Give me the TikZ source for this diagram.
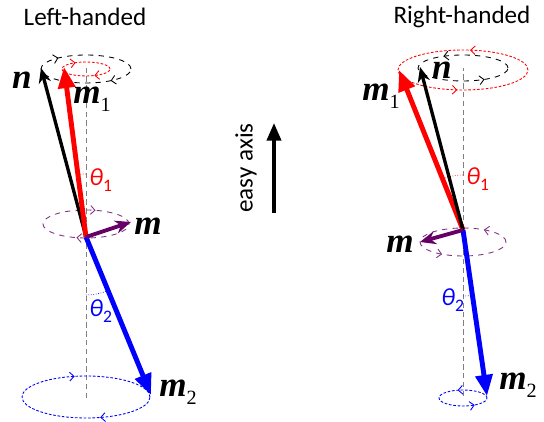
\documentclass[tikz,border=0pt]{standalone}
\usepackage{fontspec}
\setmainfont{Carlito}
\newfontfamily\lblfont{Liberation Serif}
\usetikzlibrary{arrows.meta,decorations.markings}
\definecolor{mpurple}{RGB}{102,0,102}
\definecolor{lpurple}{RGB}{128,50,128}
\newcommand\vlab[2]{{\lblfont\bfseries\itshape #1}\raisebox{-0.45ex}{\lblfont\fontsize{11.5}{12}\selectfont #2}}
\newcommand\tlab[1]{\textit{θ}\raisebox{-0.45ex}{\fontsize{10}{10}\selectfont #1}}

\begin{document}
\begin{tikzpicture}[x=0.02cm,y=0.02cm,line join=round]
	\tikzset{every node/.style={inner sep=0pt},
		axisline/.style={gray,densely dashed,line width=0.5pt},
		cw/.style 2 args={postaction={decorate,decoration={markings,
			mark=at position #1 with {\arrowreversed{Straight Barb[length=2.5pt,width=5pt]}},
			mark=at position #2 with {\arrowreversed{Straight Barb[length=2.5pt,width=5pt]}}}}},
		ccw/.style 2 args={postaction={decorate,decoration={markings,
			mark=at position #1 with {\arrow{Straight Barb[length=2.5pt,width=5pt]}},
			mark=at position #2 with {\arrow{Straight Barb[length=2.5pt,width=5pt]}}}}},
		nvec/.style={black,line width=1.9pt,-{Stealth[length=8.5pt,width=7pt]}},
		mvec/.style={line width=2.8pt,-{Triangle[length=12pt,width=9.5pt]}},
		pvec/.style={mpurple,line width=2.2pt,-{Stealth[length=9pt,width=7.5pt]}},
		bigm/.style={font=\fontsize{20}{21}\selectfont},
		thlab/.style={font=\fontsize{14}{15}\selectfont},
		title/.style={font=\fontsize{14.3}{16}\selectfont}}
	\useasboundingbox (0,0) rectangle (544,422);
	% titles and easy axis
	\node[title] (lt) at (85,405) {Left-handed};
	\node[title] (rt) at (462,405) {Right-handed};
	\coordinate (ea0) at (274,209);
	\coordinate (ea1) at (274,299);
	\draw[line width=2pt,-{Triangle[length=10pt,width=8pt]}] (ea0)--(ea1);
	\node[title,rotate=90] (ea) at (246,254) {easy axis};
	%%% left-handed
	\coordinate (OL) at (86,185);
	\coordinate (axL0) at (86,24);
	\coordinate (axL1) at (86,357);
	\draw[axisline] (axL0)--(axL1);
	\draw[black,dashed,line width=0.5pt,cw={0.39}{0.875}] (86,353) ellipse [x radius=45,y radius=14];
	\draw[red,dash pattern=on 1.5pt off 1pt,line width=0.5pt,cw={0.35}{0.83}] (86,353) ellipse [x radius=24,y radius=7];
	\draw[lpurple,dashed,line width=0.5pt,cw={0.2}{0.7}] (86,198) ellipse [x radius=43,y radius=14];
	\draw[blue,dash pattern=on 1.5pt off 1pt,line width=0.5pt,cw={0.29}{0.8}] (86,25) ellipse [x radius=64,y radius=21];
	\coordinate (nL) at (41,354);
	\coordinate (m1L) at (64,355);
	\coordinate (mL) at (131,200);
	\coordinate (m2L) at (151,27);
	\draw[red,densely dotted,line width=0.4pt] (OL) ++(90:63) arc[start angle=90,end angle=97.4,radius=63];
	\draw[blue,densely dotted,line width=0.4pt] (OL) ++(270:58) arc[start angle=270,end angle=292.4,radius=58];
	\draw[nvec] (OL)--(nL);
	\draw[mvec,red] (OL)--(m1L);
	\draw[mvec,blue] (OL)--(m2L);
	\draw[pvec] (OL)--(mL);
	\node[bigm] (nLl) at (22,342) {\lblfont\bfseries\itshape n};
	\node[bigm,anchor=west] (m1Ll) at (73,323) {\vlab{m}{1}};
	\node[bigm] (mLl) at (148,196) {\lblfont\bfseries\itshape m};
	\node[bigm,anchor=west] (m2Ll) at (159,30) {\vlab{m}{2}};
	\node[thlab,red,anchor=west] (t1L) at (89,242) {\tlab{1}};
	\node[thlab,blue,anchor=west] (t2L) at (89,111) {\tlab{2}};
	%%% right-handed
	\coordinate (OR) at (463,192);
	\coordinate (axR0) at (463,26);
	\coordinate (axR1) at (463,354);
	\draw[axisline] (axR0)--(axR1);
	\draw[red,dash pattern=on 1.5pt off 1pt,line width=0.5pt,ccw={0.225}{0.73}] (463,352) ellipse [x radius=65,y radius=20];
	\draw[black,dashed,line width=0.5pt,ccw={0.35}{0.86}] (463,354) ellipse [x radius=45,y radius=13];
	\draw[lpurple,dashed,line width=0.5pt,ccw={0.14}{0.64}] (463,180) ellipse [x radius=43,y radius=14];
	\draw[blue,dash pattern=on 1.5pt off 1pt,line width=0.5pt,ccw={0.3}{0.86}] (463,24) ellipse [x radius=24,y radius=8];
	\coordinate (nR) at (420,355);
	\coordinate (m1R) at (399,352);
	\coordinate (mR) at (420,180);
	\coordinate (m2R) at (487,26);
	\draw[red,densely dotted,line width=0.4pt] (OR) ++(90:55) arc[start angle=90,end angle=111.8,radius=55];
	\draw[blue,densely dotted,line width=0.4pt] (OR) ++(270:66) arc[start angle=270,end angle=278.2,radius=66];
	\draw[mvec,red] (OR)--(m1R);
	\draw[nvec] (OR)--(nR);
	\draw[mvec,blue] (OR)--(m2R);
	\draw[pvec] (OR)--(mR);
	\node[bigm] (nRl) at (442,352) {\lblfont\bfseries\itshape n};
	\node[bigm,anchor=west] (m1Rl) at (362,326) {\vlab{m}{1}};
	\node[bigm] (mRl) at (400,178) {\lblfont\bfseries\itshape m};
	\node[bigm,anchor=west] (m2Rl) at (499,37) {\vlab{m}{2}};
	\node[thlab,red,anchor=west] (t1R) at (466,243) {\tlab{1}};
	\node[thlab,blue,anchor=west] (t2R) at (441,122) {\tlab{2}};
\end{tikzpicture}
\end{document}
